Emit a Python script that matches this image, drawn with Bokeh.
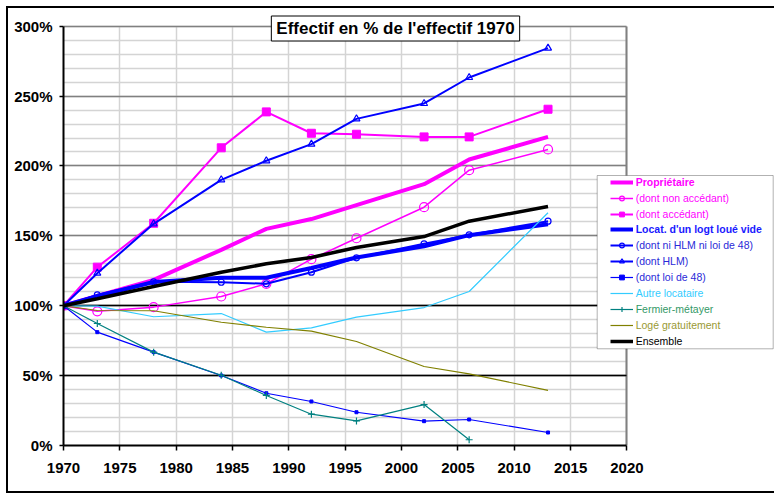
from bokeh.plotting import figure
from bokeh.models import (Legend, LegendItem, Label, BoxAnnotation, Span, Grid,
                          FixedTicker, PrintfTickFormatter, Range1d)
from bokeh.embed import file_html
from bokeh.resources import INLINE

# ---- data ----
years = [1970, 1973, 1978, 1984, 1988, 1992, 1996, 2002, 2006, 2013]
fermier_years = [1970, 1973, 1978, 1984, 1988, 1992, 1996, 2002, 2006]

proprietaire = [100, 107, 118.5, 140, 155, 162, 172, 187, 204.6, 220.8]
non_accedant = [100, 96, 99, 106.6, 115.7, 133.3, 148.3, 170.5, 197, 211.8]
accedant = [100, 127.6, 159, 213, 238.7, 223.4, 222.7, 220.8, 220.8, 240.6]
locat = [100, 106.8, 117, 120, 120, 127, 134.5, 142.5, 150.5, 158.3]
ni_hlm = [100, 107.8, 117.1, 116.8, 115.7, 124, 134.3, 144.3, 150.7, 160.5]
hlm = [100, 123.3, 158.6, 190.1, 203.7, 215.6, 233.7, 244.7, 263.3, 284.3]
loi48 = [100, 81.1, 66.8, 50.1, 37.4, 31.5, 23.8, 17.4, 18.6, 9.3]
autre = [100, 99.7, 92.1, 94.4, 81.1, 84.2, 91.8, 98.7, 110.2, 166.5]
fermier = [100, 87.3, 66.8, 50.3, 35.8, 22.4, 17.6, 29.3, 4.1]
loge = [100, 96.6, 96.4, 88.2, 84.6, 81.8, 74.4, 56.5, 51.3, 39.4]
ensemble = [100, 105, 113.8, 124, 130, 134.5, 141.7, 149.5, 160.5, 171]

title_text = "Effectif en % de l'effectif 1970"
x_ticks = list(range(1970, 2021, 5))
y_ticks = list(range(0, 301, 50))
y_minor = list(range(0, 301, 10))
dark_grid = [50, 100]

FONT = "Liberation Sans"
MAG = "#FF00FF"
BLUE = "#0000FF"
LBLUE = "#33CCFF"
TEAL = "#008080"
OLIVE = "#808000"

# ---- geometry (pixels) ----
W, H = 766, 483
LEFT, BOTTOM = 55, 46
FRAME_W = W - LEFT          # frame runs to right canvas edge
FRAME_H = H - BOTTOM        # frame runs to top canvas edge
PX_PER_YEAR = 563.4 / 50.0
PX_PER_PCT = 419.3 / 300.0
X_END = 1970 + FRAME_W / PX_PER_YEAR
Y_END = FRAME_H / PX_PER_PCT

p = figure(width=W, height=H, x_range=Range1d(1970, X_END), y_range=Range1d(0, Y_END),
           output_backend="svg", toolbar_location=None,
           min_border_left=LEFT, min_border_right=0, min_border_top=0,
           min_border_bottom=BOTTOM)
p.styles = {"margin": "8px 0 0 8px",
            "box-shadow": "-2px 0 0 0 black, 0 -2px 0 0 black, 0 2px 0 0 black, -2px -2px 0 0 black, -2px 2px 0 0 black"}
p.background_fill_color = "white"
p.border_fill_color = "white"
p.outline_line_color = None

p.xaxis.ticker = FixedTicker(ticks=x_ticks)
p.yaxis.ticker = FixedTicker(ticks=y_ticks, minor_ticks=y_minor)
p.xaxis.bounds = (1970, 2020)
p.yaxis.bounds = (0, 300)
p.yaxis.formatter = PrintfTickFormatter(format="%d%%")
for ax in (p.xaxis, p.yaxis):
    ax.axis_line_color = "black"
    ax.axis_line_width = 2
    ax.major_tick_line_color = "black"
    ax.major_tick_line_width = 1.5
    ax.major_tick_in = 0
    ax.minor_tick_line_color = None
    ax.major_label_text_font = FONT
    ax.major_label_text_font_style = "bold"
    ax.major_label_text_font_size = "15px"
    ax.major_label_text_color = "black"
p.xaxis.major_tick_out = 5
p.yaxis.major_tick_out = 4
p.xaxis.major_label_standoff = 12
p.yaxis.major_label_standoff = 7

p.xgrid.bounds = (1960, X_END + 10)
p.xgrid.cross_bounds = (0, 300)
p.xgrid.grid_line_color = "#d4d4d4"
p.xgrid.grid_line_width = 1.5
p.ygrid.bounds = (-10, Y_END + 10)
p.ygrid.cross_bounds = (1970, 2020)
p.ygrid.grid_line_color = "#808080"
p.ygrid.grid_line_width = 1.5
p.ygrid.minor_grid_line_color = "#d4d4d4"
p.ygrid.minor_grid_line_width = 1.5

# right edge of the plot area (2020), darker like a frame border
p.add_layout(Grid(dimension=0, ticker=FixedTicker(ticks=[2020]), bounds=(1960, X_END + 10),
                  cross_bounds=(0, 300), grid_line_color="#808080", grid_line_width=2))
for v in dark_grid:
    p.add_layout(Grid(dimension=1, ticker=FixedTicker(ticks=[v]), bounds=(-10, Y_END + 10),
                      cross_bounds=(1970, 2020), grid_line_color="black", grid_line_width=1.5))

# ---- series ----
r = {}
r["prop"] = [p.line(years, proprietaire, line_color=MAG, line_width=4)]
r["nonacc"] = [p.line(years, non_accedant, line_color=MAG, line_width=1.5),
               p.scatter(years, non_accedant, marker="circle", size=9, line_color=MAG,
                         fill_color=None, line_width=1.2)]
r["acc"] = [p.line(years, accedant, line_color=MAG, line_width=2),
            p.scatter(years, accedant, marker="square", size=8, line_color=MAG, fill_color=MAG)]
r["locat"] = [p.line(years, locat, line_color=BLUE, line_width=4)]
r["nihlm"] = [p.line(years, ni_hlm, line_color=BLUE, line_width=2),
              p.scatter(years, ni_hlm, marker="circle", size=6, line_color=BLUE,
                        fill_color=None, line_width=1.2)]
r["hlm"] = [p.line(years, hlm, line_color=BLUE, line_width=2),
            p.scatter(years, hlm, marker="triangle", size=7, line_color=BLUE,
                      fill_color=None, line_width=1.2)]
r["loi48"] = [p.line(years, loi48, line_color=BLUE, line_width=1.2),
              p.scatter(years, loi48, marker="square", size=3, line_color=BLUE, fill_color=BLUE)]
r["autre"] = [p.line(years, autre, line_color=LBLUE, line_width=1.2)]
r["fermier"] = [p.line(fermier_years, fermier, line_color=TEAL, line_width=1.2),
                p.scatter(fermier_years, fermier, marker="cross", size=7, line_color=TEAL,
                          line_width=1.2)]
r["loge"] = [p.line(years, loge, line_color=OLIVE, line_width=1.2)]
r["ens"] = [p.line(years, ensemble, line_color="black", line_width=3.5)]

# ---- title box (screen units relative to plot area, page y of frame bottom = 445) ----
p.add_layout(Label(x=332, y=417, x_units="screen", y_units="screen", text=title_text,
                   text_align="center", text_baseline="middle", text_font=FONT,
                   text_font_size="17px", text_font_style="bold", text_color="black",
                   border_line_color="black", border_line_width=1,
                   background_fill_color="white", padding=(5, 3)))

# ---- legend ----
p.add_layout(BoxAnnotation(left=533.7, right=709.7, top=270, bottom=96.7,
                           left_units="screen", right_units="screen",
                           top_units="screen", bottom_units="screen",
                           fill_color="white", fill_alpha=1, line_color="black",
                           line_width=1))

legend_rows = [
    ("Propriétaire", "prop", MAG, True),
    ("(dont non accédant)", "nonacc", MAG, False),
    ("(dont accédant)", "acc", MAG, False),
    ("Locat. d'un logt loué vide", "locat", "#1a1aff", True),
    ("(dont ni HLM ni loi de 48)", "nihlm", "#2a2ad8", False),
    ("(dont HLM)", "hlm", "#2a2ad8", False),
    ("(dont loi de 48)", "loi48", "#2a2ad8", False),
    ("Autre locataire", "autre", LBLUE, False),
    ("Fermier-métayer", "fermier", "#339966", False),
    ("Logé gratuitement", "loge", "#999933", False),
    ("Ensemble", "ens", "black", False),
]
for i, (lab, key, col, bold) in enumerate(legend_rows):
    cy = 181.7 + 15.93 * i  # page y of row centre
    lg = Legend(items=[LegendItem(label=lab, renderers=r[key])],
                location=(546.7, 445 - cy - 6), padding=0, margin=0,
                border_line_alpha=0, background_fill_alpha=0,
                glyph_width=23, glyph_height=12, label_height=12, label_standoff=3,
                label_text_font=FONT, label_text_font_size="10.5px",
                label_text_color=col, label_text_font_style="bold" if bold else "normal")
    p.add_layout(lg)

open("out.html", "w").write(file_html(p, INLINE))
